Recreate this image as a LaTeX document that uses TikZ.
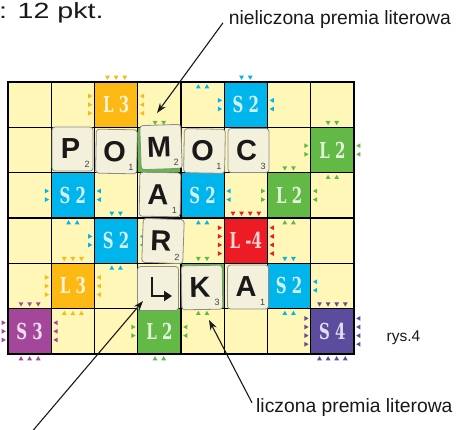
\documentclass[tikz,border=0pt]{standalone}
\usepackage{fontspec}
\setmainfont{Liberation Sans}
\newfontfamily\premfont[FakeStretch=0.68]{DejaVu Serif}
\usepackage{tikz}
\usetikzlibrary{arrows.meta, calc}

\definecolor{cellyellow}{HTML}{FFF7B8}
\definecolor{premLthree}{HTML}{FDB913}
\definecolor{premStwo}{HTML}{00B5EC}
\definecolor{premLtwo}{HTML}{62B946}
\definecolor{premLfour}{HTML}{ED1C24}
\definecolor{premSthree}{HTML}{A4479B}
\definecolor{premSfour}{HTML}{5B4C9D}
\definecolor{tilecream}{HTML}{F3F0DC}

\begin{document}
\begin{tikzpicture}[x=1pt, y=-1pt,
  tile/.style={draw=black!45, line width=0.8pt, fill=tilecream, rounded corners=3pt,
    minimum width=41pt, minimum height=44pt, inner sep=0pt, text=black!90,
    font=\fontsize{29}{29}\selectfont\bfseries},
  tilenum/.style={anchor=south east, inner sep=0pt, text=black!75, font=\fontsize{9}{9}\selectfont},
  prem/.style={inner sep=0pt, font=\premfont\bfseries\fontsize{22}{22}\selectfont},
  pointer/.style={line width=1.1pt, black!90, -{Stealth[length=10pt,width=7pt]}},
  note/.style={anchor=base west, inner sep=0pt, text=black!90, font=\fontsize{19.3}{22}\selectfont}]
\useasboundingbox (0,0) rectangle (458,430);

\fill[cellyellow] (8,82) rectangle (354,354);

% premie (pod M i K bez napisu)
\foreach \i/\j/\col/\txt/\n in {2/0/premLthree/L 3/3, 5/0/premStwo/S 2/2, 3/1/premLtwo//2,
    7/1/premLtwo/L 2/2, 1/2/premStwo/S 2/2, 4/2/premStwo/S 2/2, 6/2/premLtwo/L 2/2,
    2/3/premStwo/S 2/2, 5/3/premLfour/L -4/4, 1/4/premLthree/L 3/3, 4/4/premLtwo//2,
    6/4/premStwo/S 2/2, 0/5/premSthree/S 3/3, 3/5/premLtwo/L 2/2, 7/5/premSfour/S 4/4}{
  \pgfmathsetmacro{\cx}{8+43.25*(\i+0.5)}
  \pgfmathsetmacro{\cy}{82+45.33*(\j+0.5)}
  \fill[\col] ({\cx-21.6},{\cy-22.7}) rectangle ({\cx+21.6},{\cy+22.7});
  \node[prem, text=\col!18!white] (p\i\j) at (\cx,\cy) {\txt};
  \foreach \m in {1,...,\n}{
    \pgfmathsetmacro{\off}{(\m-(\n+1)/2)*8.6}
    \fill[\col] ({\cx+\off-2.4},{\cy-29}) -- ({\cx+\off+2.4},{\cy-29}) -- ({\cx+\off},{\cy-24.8}) -- cycle;
    \fill[\col] ({\cx+\off-2.4},{\cy+29}) -- ({\cx+\off+2.4},{\cy+29}) -- ({\cx+\off},{\cy+24.8}) -- cycle;
    \fill[\col] ({\cx-28},{\cy+\off-2.4}) -- ({\cx-28},{\cy+\off+2.4}) -- ({\cx-23.8},{\cy+\off}) -- cycle;
    \fill[\col] ({\cx+28},{\cy+\off-2.4}) -- ({\cx+28},{\cy+\off+2.4}) -- ({\cx+23.8},{\cy+\off}) -- cycle;
  }
}
\foreach \off in {-4.3,4.3}
  \fill[premStwo] ({202.6+\off-2.4},88.4) -- ({202.6+\off+2.4},88.4) -- ({202.6+\off},84.2) -- cycle;

% siatka
\foreach \i in {1,...,7}
  \draw[line width=1.3pt] ({8+43.25*\i},82) -- ({8+43.25*\i},354);
\foreach \j in {1,...,5}
  \draw[line width=1.3pt] (8,{82+45.33*\j}) -- (354,{82+45.33*\j});
\draw[line width=1.3pt] (8,82) rectangle (354,354);

% plytki
\foreach \tn/\x/\y/\a/\ltr/\sub in {P/72.5/149/0/P/2, Oa/116.5/151.5/-1/O/1, M/161/147/2/M/2,
    Ob/204.5/151/-1/O/1, C/248.5/150.5/0/C/3, Aa/160/194.5/-1/A/1, R/163/241/-2/R/2,
    K/202/287.5/1/K/3, Ab/248/287/0/A/1}{
  \node[tile, rotate=\a] (\tn) at (\x,\y) {\ltr\kern4pt};
  \node[tilenum, rotate=\a] (n\tn) at ([shift={(-3.5pt,3.5pt)}]\tn.south east) {\sub};
}
\node[tile] (start) at (158,288.5) {};
\draw[line width=2.6pt, black!90, -{Triangle[length=8pt,width=10pt]}]
  ([shift={(-6pt,11.5pt)}]start.center) |- ([shift={(14pt,-7.5pt)}]start.center);

% opisy
\node[note, font=\fontsize{22}{26}\selectfont\addfontfeatures{FakeStretch=1.3}] (pkt) at (-1,18.3) {: 12 pkt.};
\node[note] (nielicz) at (228.7,25) {nieliczona premia literowa};
\node[note] (licz) at (256,412.5) {liczona premia literowa};
\node[note, font=\fontsize{15.5}{18}\selectfont] (rys) at (386.5,342) {rys.4};

\coordinate (tipM) at (157,113);
\coordinate (tipK) at (209,320);
\coordinate (tipS) at (143,301);
\coordinate (tail) at (30,434);
\draw[pointer] ([shift={(-5.7pt,-2.8pt)}]nielicz.west) -- (tipM);
\draw[pointer] ([shift={(-4pt,4.7pt)}]licz.west) -- (tipK);
\draw[pointer] (tail) -- (tipS);
\end{tikzpicture}
\end{document}
